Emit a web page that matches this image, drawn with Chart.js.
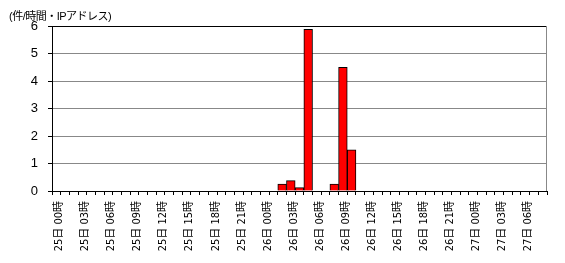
<!DOCTYPE html>
<html>
<head>
<meta charset="utf-8">
<script src="https://cdn.jsdelivr.net/npm/chart.js@4/dist/chart.umd.min.js"></script>
<style>
  html, body { margin: 0; padding: 0; background: #fff; }
  #wrap { position: relative; width: 565px; height: 263px; }
  #title { position: absolute; left: 9px; top: 7px; font: 11px "Liberation Sans", "Noto Sans CJK JP", sans-serif; letter-spacing: -0.5px; color: #000; }
</style>
</head>
<body>
<div id="wrap">
  <div id="title">(件/時間・IPアドレス)</div>
  <canvas id="c" width="565" height="263"></canvas>
</div>
<script>
// hourly categories, 25日00時 .. 27日08時
const hourLabels = [
  '25日 00時','25日 01時','25日 02時','25日 03時','25日 04時','25日 05時','25日 06時','25日 07時',
  '25日 08時','25日 09時','25日 10時','25日 11時','25日 12時','25日 13時','25日 14時','25日 15時',
  '25日 16時','25日 17時','25日 18時','25日 19時','25日 20時','25日 21時','25日 22時','25日 23時',
  '26日 00時','26日 01時','26日 02時','26日 03時','26日 04時','26日 05時','26日 06時','26日 07時',
  '26日 08時','26日 09時','26日 10時','26日 11時','26日 12時','26日 13時','26日 14時','26日 15時',
  '26日 16時','26日 17時','26日 18時','26日 19時','26日 20時','26日 21時','26日 22時','26日 23時',
  '27日 00時','27日 01時','27日 02時','27日 03時','27日 04時','27日 05時','27日 06時','27日 07時',
  '27日 08時'
];

// events per hour per IP
const perHour = [
  0,0,0,0,0,0,0,0, 0,0,0,0,0,0,0,0, 0,0,0,0,0,0,0,0,
  0,0,0.25,0.375,0.125,5.875,0,0, 0.25,4.5,1.5,0,0,0,0,0,
  0,0,0,0,0,0,0,0, 0,0,0,0,0,0,0,0, 0
];

const yTicks = [0, 1, 2, 3, 4, 5, 6];

const frame = {
  id: 'frame',
  afterDraw(chart) {
    const a = chart.chartArea, ctx = chart.ctx;
    ctx.save();
    ctx.lineWidth = 1;
    ctx.strokeStyle = '#000';
    ctx.beginPath();
    ctx.moveTo(a.left, a.top + 0.5);
    ctx.lineTo(a.right, a.top + 0.5);
    ctx.stroke();
    ctx.strokeStyle = '#888';
    ctx.beginPath();
    ctx.moveTo(a.right - 0.5, a.top);
    ctx.lineTo(a.right - 0.5, a.bottom);
    ctx.stroke();
    ctx.restore();
  }
};

new Chart(document.getElementById('c'), {
  type: 'bar',
  data: {
    labels: hourLabels,
    datasets: [{
      data: perHour,
      backgroundColor: '#ff0000',
      borderColor: '#000',
      borderWidth: 1,
      categoryPercentage: 1,
      barPercentage: 1
    }]
  },
  options: {
    responsive: false,
    animation: false,
    layout: { padding: { top: 26, right: 18, left: 0, bottom: 0 } },
    plugins: { legend: { display: false }, tooltip: { enabled: false } },
    scales: {
      x: {
        grid: { drawOnChartArea: false, tickLength: 4, color: '#000', offset: true },
        border: { color: '#000', width: 1 },
        ticks: {
          autoSkip: false,
          minRotation: 90,
          maxRotation: 90,
          color: '#000',
          padding: 6,
          labelOffset: 3,
          font: { family: '"Liberation Sans Narrow", "DejaVu Sans Condensed", "Noto Sans CJK JP", sans-serif', size: 11 },
          callback: (v, i) => (i % 3 === 0 ? hourLabels[i] : '')
        },
        afterFit: s => { s.height = 72; }
      },
      y: {
        min: 0,
        max: 6,
        afterBuildTicks: s => { s.ticks = yTicks.map(v => ({ value: v })); },
        grid: { color: '#888', tickLength: 4, tickColor: '#000' },
        border: { color: '#000', width: 1 },
        ticks: {
          color: '#000',
          padding: 10,
          font: { family: '"Liberation Sans", "Noto Sans CJK JP", sans-serif', size: 13 }
        },
        afterFit: s => { s.width = 52; }
      }
    }
  },
  plugins: [frame]
});
</script>
</body>
</html>
